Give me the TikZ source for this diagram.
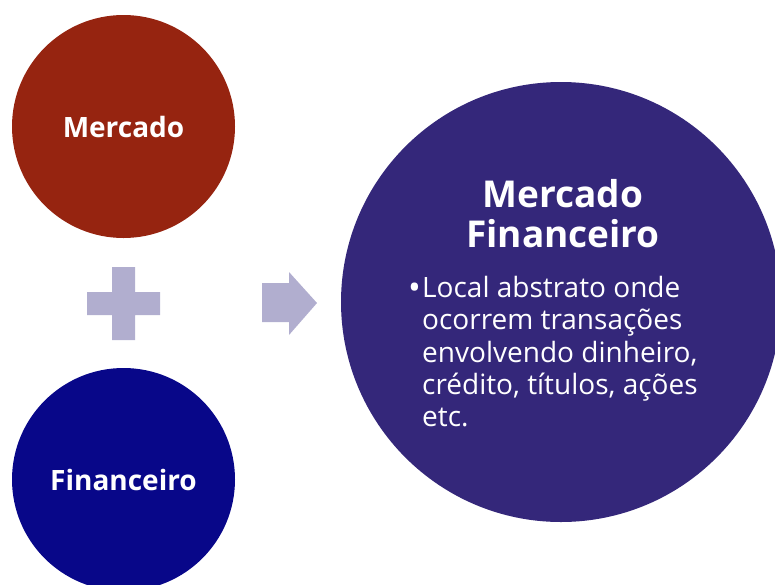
\documentclass[tikz,border=0pt]{standalone}
\usepackage{fontspec}
\setmainfont{Open Sans}
\definecolor{cred}{RGB}{150,36,16}
\definecolor{cblue}{RGB}{8,7,137}
\definecolor{cpurple}{RGB}{52,39,122}
\definecolor{clav}{RGB}{177,174,207}
\tikzset{
  disc/.style={circle, inner sep=0pt, text=white},
  sign/.style={fill=clav, draw=none},
}
\begin{document}
\begin{tikzpicture}[x=1pt,y=-1pt]
\useasboundingbox (0,0) rectangle (775,584);
\node[disc, fill=cred, minimum size=223pt, font=\fontsize{28}{32}\selectfont\bfseries] (merc) at (123.5,126.5) {Mercado};
\node[disc, fill=cblue, minimum size=223pt, font=\fontsize{28}{32}\selectfont\bfseries] (fin) at (123.5,479.5) {Financeiro};
\node[disc, fill=cpurple, minimum size=440pt] (mf) at (561,302) {};
% plus
\fill[sign] (112,267) -- (135,267) -- (135,292) -- (160,292) -- (160,315) -- (135,315) -- (135,340) -- (112,340) -- (112,315) -- (87,315) -- (87,292) -- (112,292) -- cycle;
% arrow
\fill[sign] (262,283) -- (289,283) -- (289,272) -- (317,303) -- (289,335) -- (289,322) -- (262,322) -- cycle;
\node[text=white, align=center, anchor=base, font=\fontsize{37}{40}\selectfont\bfseries] (title) at (563,247) {Mercado\\Financeiro};
\node[text=white, anchor=base west, inner sep=0pt, font=\fontsize{34}{32}\selectfont] (bul) at (408,299) {•};
\node[text=white, anchor=north west, inner sep=0pt, align=left, font=\fontsize{28}{32.3}\selectfont, text depth=0pt] (body) at (422,276) {Local abstrato onde\\ocorrem transações\\envolvendo dinheiro,\\crédito, títulos, ações\\etc.};
\end{tikzpicture}
\end{document}
